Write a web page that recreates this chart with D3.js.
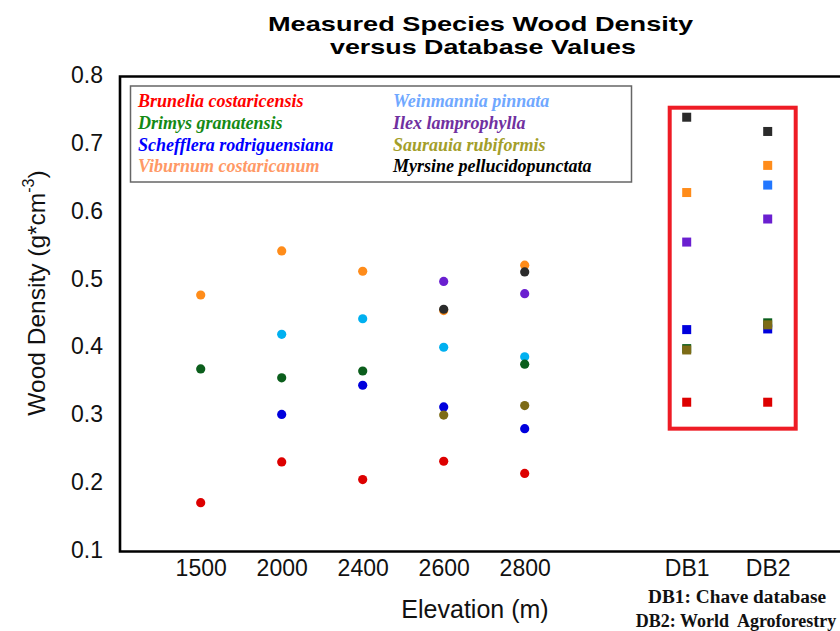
<!DOCTYPE html>
<html>
<head>
<meta charset="utf-8">
<script src="https://cdn.jsdelivr.net/npm/d3@7/dist/d3.min.js"></script>
<style>
  html, body { margin: 0; padding: 0; background: #fff; }
  svg { display: block; }
</style>
</head>
<body>
<svg id="chart" width="840" height="631"></svg>
<script>
// ---------------- DATA ----------------
const categories = ["1500", "2000", "2400", "2600", "2800", "", "DB1", "DB2"];
const measuredCategories = ["1500", "2000", "2400", "2600", "2800"];
const dbCategories = ["DB1", "DB2"];
const yTicks = [0.1, 0.2, 0.3, 0.4, 0.5, 0.6, 0.7, 0.8];

const speciesNames = [
  "Brunelia costaricensis", "Drimys granatensis", "Schefflera rodriguensiana", "Viburnum costaricanum",
  "Weinmannia pinnata", "Ilex lamprophylla", "Saurauia rubiformis", "Myrsine pellucidopunctata"
];
// measured values at 1500, 2000, 2400, 2600, 2800 m
const brunelia   = [0.172, 0.232, 0.206, 0.233, 0.215];
const drimys     = [0.369, 0.356, 0.366, null, 0.376];
const schefflera = [null, 0.302, 0.345, 0.313, 0.281];
const viburnum   = [0.478, 0.543, 0.513, 0.455, 0.522];
const weinmannia = [null, 0.420, 0.443, 0.401, 0.387];
const ilex       = [null, null, null, 0.498, 0.480];
const saurauia   = [null, null, null, 0.301, 0.315];
const myrsine    = [null, null, null, 0.457, 0.512];
// database values DB1, DB2
const bruneliaDB   = [0.320, 0.320];
const drimysDB     = [0.399, 0.437];
const scheffleraDB = [0.427, 0.428];
const viburnumDB   = [0.629, 0.669];
const weinmanniaDB = [null, 0.640];
const ilexDB       = [0.556, 0.590];
const saurauiaDB   = [0.397, 0.434];
const myrsineDB    = [0.740, 0.719];

const legendColors = ["#ff0000", "#148a14", "#0000ff", "#ff9966", "#70a8ff", "#7030a0", "#a39e2a", "#000000"];
const markerColors = ["#dd0000", "#0b5e1c", "#0000dd", "#ff8c1a", "#00b0f0", "#6a1fd0", "#7d6b16", "#2b2b2b"];
const dbMarkerColors = ["#dd0000", "#0b5e1c", "#0000dd", "#ff8c1a", "#2277ff", "#6a1fd0", "#7d6b16", "#2b2b2b"];

const measured = [brunelia, drimys, schefflera, viburnum, weinmannia, ilex, saurauia, myrsine];
const database = [bruneliaDB, drimysDB, scheffleraDB, viburnumDB, weinmanniaDB, ilexDB, saurauiaDB, myrsineDB];
// draw order (later on top)
const drawOrder = [0, 4, 1, 2, 3, 5, 6, 7];

// ---------------- LAYOUT ----------------
const svg = d3.select("#chart");
const plotLeft = 120, plotTop = 76.5, plotBottom = 551.5;

const x = d3.scalePoint().domain(categories).range([200.7, 767.7]);
const y = d3.scaleLinear().domain([0.1, 0.8]).range([plotBottom, plotTop]);

const sans = "'Liberation Sans', Arial, sans-serif";
const serif = "'Liberation Serif', 'Times New Roman', serif";

// title
svg.append("text").attr("x", 480.5).attr("y", 30.5).attr("text-anchor", "middle")
  .attr("font-family", sans).attr("font-weight", "bold").attr("font-size", 21)
  .attr("textLength", 425).attr("lengthAdjust", "spacingAndGlyphs")
  .text("Measured Species Wood Density");
svg.append("text").attr("x", 483).attr("y", 54).attr("text-anchor", "middle")
  .attr("font-family", sans).attr("font-weight", "bold").attr("font-size", 21)
  .attr("textLength", 306).attr("lengthAdjust", "spacingAndGlyphs")
  .text("versus Database Values");

// frame
svg.append("path")
  .attr("d", `M850,${plotTop}H${plotLeft}V${plotBottom}H850`)
  .attr("fill", "none").attr("stroke", "#000").attr("stroke-width", 2.6);

// y axis labels
const yAxis = d3.axisLeft(y).tickValues(yTicks).tickFormat(d3.format(".1f")).tickSize(0).tickPadding(17);
const gy = svg.append("g").attr("transform", `translate(${plotLeft},0)`).call(yAxis);
gy.select(".domain").remove();
gy.selectAll("text").attr("font-family", sans).attr("font-size", 23).attr("fill", "#111")
  .attr("dy", "0.26em");

// x axis labels
const xAxis = d3.axisBottom(x).tickValues(categories.filter(c => c !== "")).tickSize(0).tickPadding(8);
const gx = svg.append("g").attr("transform", `translate(0,${plotBottom})`).call(xAxis);
gx.select(".domain").remove();
gx.selectAll("text").attr("font-family", sans).attr("font-size", 23).attr("fill", "#111")
  .attr("dy", "0.71em");

// axis titles
svg.append("text").attr("x", 475).attr("y", 618).attr("text-anchor", "middle")
  .attr("font-family", sans).attr("font-size", 25).attr("fill", "#111")
  .text("Elevation (m)");
const yl = svg.append("text").attr("transform", "translate(45,293) rotate(-90)")
  .attr("text-anchor", "middle").attr("font-family", sans).attr("font-size", 24.5).attr("fill", "#111");
yl.append("tspan").text("Wood Density (g*cm");
yl.append("tspan").attr("font-size", 16).attr("dy", -11).text("-3");
yl.append("tspan").attr("dy", 11).text(")");

// red highlight box around database values
svg.append("rect")
  .attr("x", x("DB1") - 17).attr("y", y(0.754))
  .attr("width", x("DB2") + 28 - (x("DB1") - 17)).attr("height", y(0.281) - y(0.754))
  .attr("fill", "none").attr("stroke", "#ee1c25").attr("stroke-width", 4);

// measured dots
drawOrder.forEach(si => {
  const pts = measured[si].map((v, i) => ({ c: measuredCategories[i], v })).filter(d => d.v != null);
  svg.append("g").selectAll("circle").data(pts).join("circle")
    .attr("cx", d => x(d.c)).attr("cy", d => y(d.v)).attr("r", 4.6)
    .attr("fill", markerColors[si]);
});

// database squares
const sq = 9;
drawOrder.forEach(si => {
  const pts = database[si].map((v, i) => ({ c: dbCategories[i], v })).filter(d => d.v != null);
  svg.append("g").selectAll("rect").data(pts).join("rect")
    .attr("x", d => x(d.c) - sq / 2).attr("y", d => y(d.v) - sq / 2)
    .attr("width", sq).attr("height", sq)
    .attr("fill", dbMarkerColors[si]);
});

// legend
svg.append("rect").attr("x", 130.5).attr("y", 86).attr("width", 501).attr("height", 96)
  .attr("fill", "#fff").attr("stroke", "#666").attr("stroke-width", 1.5);
speciesNames.forEach((name, i) => {
  const col = Math.floor(i / 4), row = i % 4;
  svg.append("text")
    .attr("x", col === 0 ? 138 : 393).attr("y", 107.3 + row * 21.7)
    .attr("font-family", serif).attr("font-style", "italic").attr("font-weight", "bold")
    .attr("font-size", 18).attr("fill", legendColors[i])
    .text(name);
});

// database footnote
svg.append("text").attr("x", 737).attr("y", 603).attr("text-anchor", "middle")
  .attr("font-family", serif).attr("font-weight", "bold").attr("font-size", 18).attr("fill", "#111")
  .attr("textLength", 178).attr("lengthAdjust", "spacingAndGlyphs")
  .text("DB1: Chave database");
svg.append("text").attr("x", 736).attr("y", 626.5).attr("text-anchor", "middle")
  .attr("font-family", serif).attr("font-weight", "bold").attr("font-size", 18).attr("fill", "#111")
  .style("white-space", "pre")
  .text("DB2: World  Agroforestry");
</script>
</body>
</html>
